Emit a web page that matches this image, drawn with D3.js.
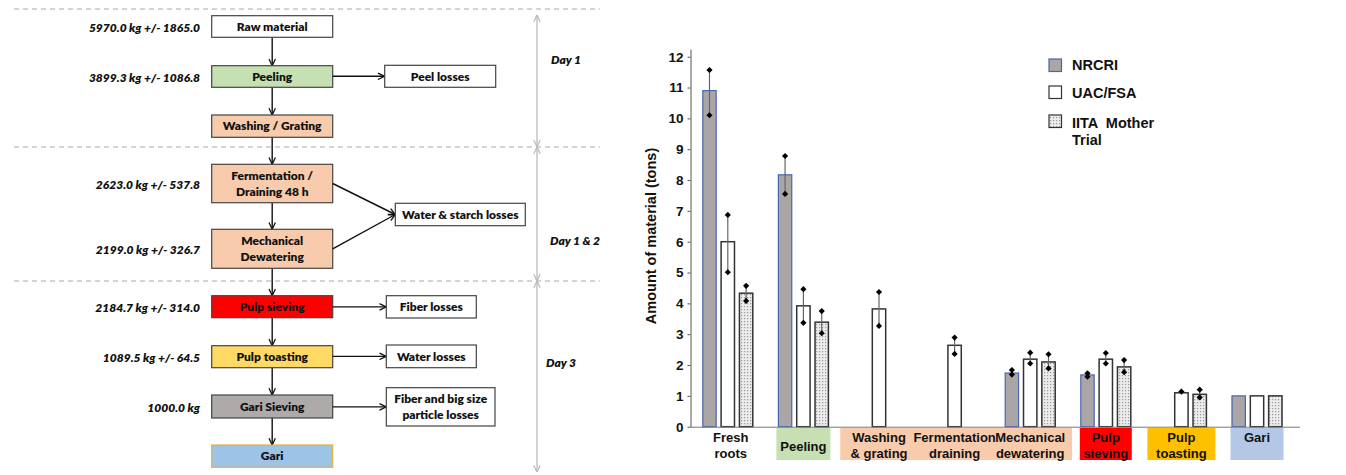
<!DOCTYPE html>
<html>
<head>
<meta charset="utf-8">
<script src="https://cdn.jsdelivr.net/npm/d3@7"></script>
<style>
  body { margin: 0; background: #fff; }
  svg { display: block; }
</style>
</head>
<body>
<div id="chart"></div>
<script>
// ---- bar chart data (tons) ----
const categories = ["Fresh roots", "Peeling", "Washing & grating", "Fermentation draining",
  "Mechanical dewatering", "Pulp sieving", "Pulp toasting", "Gari"];
const categoryLines = [["Fresh", "roots"], ["Peeling"], ["Washing", "& grating"], ["Fermentation", "draining"],
  ["Mechanical", "dewatering"], ["Pulp", "sieving"], ["Pulp", "toasting"], ["Gari"]];
const seriesNames = ["NRCRI", "UAC/FSA", "IITA  Mother Trial"];

const nrcri     = [10.9, 8.17, null, null, 1.74, 1.68, null, 1.0];
const nrcriLow  = [10.1, 7.55, null, null, 1.69, 1.62, null, null];
const nrcriHigh = [11.57, 8.78, null, null, 1.84, 1.73, null, null];
const uac       = [6.0, 3.92, 3.82, 2.64, 2.19, 2.19, 1.10, 1.0];
const uacLow    = [5.01, 3.37, 3.27, 2.36, 2.05, 2.05, 1.14, null];
const uacHigh   = [6.87, 4.46, 4.37, 2.89, 2.40, 2.39, 1.14, null];
const iita      = [4.33, 3.39, null, null, 2.10, 1.94, 1.05, 1.0];
const iitaLow   = [4.08, 3.03, null, null, 1.89, 1.77, 0.95, null];
const iitaHigh  = [4.57, 3.75, null, null, 2.35, 2.16, 1.20, null];
const yTicks = [0, 1, 2, 3, 4, 5, 6, 7, 8, 9, 10, 11, 12];

// ---- flow chart content ----
const steps = ["Raw material", "Peeling", "Washing / Grating", "Fermentation /|Draining 48 h",
  "Mechanical|Dewatering", "Pulp sieving", "Pulp toasting", "Gari Sieving", "Gari"];
const stepMass = ["5970.0 kg +/- 1865.0", "3899.3 kg +/- 1086.8", null, "2623.0 kg +/- 537.8",
  "2199.0 kg +/- 326.7", "2184.7 kg +/- 314.0", "1089.5 kg +/- 64.5", "1000.0 kg", null];
const losses = ["Peel losses", "Water & starch losses", "Fiber losses", "Water losses", "Fiber and big size|particle losses"];
const lossFrom = [[1], [3, 4], [5], [6], [7]];
const days = ["Day 1", "Day 1 & 2", "Day 3"];

// layout / style for the flow chart
const stepTop = [15.7, 65.7, 115, 164.3, 229.3, 295.7, 345.7, 395, 445];
const stepH = [21.6, 21.6, 22.3, 38.4, 39, 22, 22, 23, 22.3];
const stepFill = ["#ffffff", "#c5e0b3", "#f8cbad", "#f8cbad", "#f8cbad", "#ff0000", "#ffd966", "#aeaaaa", "#9dc3e6"];
const lossBox = [[384.7, 65.3, 111, 22], [395.3, 203.3, 130, 22.4], [386.3, 295.7, 90, 22.3],
  [386.3, 345, 90, 22.7], [386.3, 387.7, 108.7, 38.3]];
const dayBands = [[15, 147], [147, 281], [281, 472]];
const dayText = [[551, 60], [550, 241], [546, 363]];
const dividers = [9, 147, 281];

const width = 1346;
const height = 475;
const svg = d3.select('#chart').append('svg').attr('width', width).attr('height', height);

const defs = svg.append('defs');
function chevron(id, color) {
  defs.append('marker').attr('id', id)
    .attr('viewBox', '0 0 10 10').attr('refX', 9.5).attr('refY', 5)
    .attr('markerWidth', 8).attr('markerHeight', 8).attr('markerUnits', 'userSpaceOnUse')
    .attr('orient', 'auto-start-reverse')
    .append('path').attr('d', 'M1,1 L9.5,5 L1,9')
    .attr('fill', 'none').attr('stroke', color).attr('stroke-width', 1.6);
}
chevron('arr', '#111');
chevron('arrGrey', '#bbb');

const dots = defs.append('pattern').attr('id', 'dots')
  .attr('width', 3).attr('height', 3).attr('patternUnits', 'userSpaceOnUse');
dots.append('rect').attr('width', 3).attr('height', 3).attr('fill', '#ececec');
dots.append('rect').attr('width', 1.2).attr('height', 1.2).attr('fill', '#9a9a9a');

// ================= flow chart =================
const flow = svg.append('g').attr('font-family', 'Lato, sans-serif').attr('font-weight', 800);
const boxX = 211.7, boxW = 121, midX = boxX + boxW / 2;

flow.selectAll('line.div').data(dividers).enter().append('line')
  .attr('x1', 14).attr('x2', 600).attr('y1', d => d).attr('y2', d => d)
  .attr('stroke', '#aaa').attr('stroke-dasharray', '5,4');

function multiText(sel, x, cy, str, size) {
  const lines = str.split('|');
  const lh = size * 1.3;
  lines.forEach((ln, i) => {
    sel.append('text').attr('x', x).attr('y', cy + (i - (lines.length - 1) / 2) * lh)
      .attr('dy', '0.35em').attr('text-anchor', 'middle').attr('font-size', size)
      .attr('fill', '#111').text(ln);
  });
}

// vertical arrows between steps
steps.slice(1).forEach((s, i) => {
  flow.append('line').attr('x1', midX).attr('x2', midX)
    .attr('y1', stepTop[i] + stepH[i]).attr('y2', stepTop[i + 1])
    .attr('stroke', '#111').attr('stroke-width', 1.4).attr('marker-end', 'url(#arr)');
});

steps.forEach((s, i) => {
  flow.append('rect').attr('x', boxX).attr('y', stepTop[i]).attr('width', boxW).attr('height', stepH[i])
    .attr('fill', stepFill[i]).attr('stroke', i === 8 ? '#e0b43a' : '#444').attr('stroke-width', 1.2);
  multiText(flow, midX, stepTop[i] + stepH[i] / 2, s, 12);
  if (stepMass[i]) {
    flow.append('text').attr('x', 200).attr('y', stepTop[i] + stepH[i] / 2 + 1).attr('dy', '0.35em')
      .attr('text-anchor', 'end').attr('font-style', 'italic').attr('font-size', 12)
      .attr('fill', '#111').text(stepMass[i]);
  }
});

losses.forEach((l, k) => {
  const [lx, ly, lw, lh] = lossBox[k];
  const cy = ly + lh / 2;
  lossFrom[k].forEach(si => {
    const sy = lossFrom[k].length > 1 ? stepTop[si] + stepH[si] / 2 : cy;
    flow.append('line').attr('x1', boxX + boxW).attr('y1', sy).attr('x2', lx).attr('y2', cy)
      .attr('stroke', '#111').attr('stroke-width', 1.4).attr('marker-end', 'url(#arr)');
  });
  flow.append('rect').attr('x', lx).attr('y', ly).attr('width', lw).attr('height', lh)
    .attr('fill', '#fff').attr('stroke', '#444').attr('stroke-width', 1.2);
  multiText(flow, lx + lw / 2, cy, l, 12);
});

days.forEach((d, i) => {
  flow.append('line').attr('x1', 537).attr('x2', 537)
    .attr('y1', dayBands[i][0]).attr('y2', dayBands[i][1])
    .attr('stroke', '#bbb').attr('stroke-width', 1.3)
    .attr('marker-start', 'url(#arrGrey)').attr('marker-end', 'url(#arrGrey)');
  flow.append('text').attr('x', dayText[i][0]).attr('y', dayText[i][1]).attr('dy', '0.35em')
    .attr('font-style', 'italic').attr('font-size', 12).attr('fill', '#111').text(d);
});

// ================= bar chart =================
const chart = svg.append('g').attr('font-family', '"Liberation Sans", Arial, sans-serif').attr('font-weight', 700);
const x0 = d3.scaleBand().domain(categories).range([690, 1294.8]);
const x1 = d3.scaleBand().domain(seriesNames).range([-25, 25]).paddingInner(0.27);
const y = d3.scaleLinear().domain([0, 12.25]).range([426.7, 49]);

const seriesStyle = [
  { fill: '#aba6a6', stroke: '#4a64b0', sw: 1.2 },
  { fill: '#ffffff', stroke: '#333', sw: 1.5 },
  { fill: 'url(#dots)', stroke: '#333', sw: 1.5 }
];
const seriesVals = [[nrcri, nrcriLow, nrcriHigh], [uac, uacLow, uacHigh], [iita, iitaLow, iitaHigh]];

const bars = [];
categories.forEach((c, ci) => {
  seriesNames.forEach((s, si) => {
    const [v, lo, hi] = seriesVals[si];
    if (v[ci] != null) bars.push({ c, s, si, v: v[ci], lo: lo[ci], hi: hi[ci] });
  });
});

// category label boxes
const labelBoxes = [
  { from: "Peeling", to: "Peeling", fill: '#c6e0b4', w: 54 },
  { from: "Washing & grating", to: "Mechanical dewatering", fill: '#f8cbad' },
  { from: "Pulp sieving", to: "Pulp sieving", fill: '#ff0000', w: 52 },
  { from: "Pulp toasting", to: "Pulp toasting", fill: '#ffc000', w: 68 },
  { from: "Gari", to: "Gari", fill: '#b4c7e7', w: 53 }
];
labelBoxes.forEach(b => {
  let bx, bw;
  if (b.w) {
    bx = x0(b.from) + x0.bandwidth() / 2 - b.w / 2; bw = b.w;
  } else {
    bx = x0(b.from) - 1; bw = x0(b.to) + x0.bandwidth() + 4 - bx;
  }
  chart.append('rect').attr('x', bx).attr('y', 428).attr('width', bw).attr('height', 32).attr('fill', b.fill);
});

categories.forEach((c, ci) => {
  const lines = categoryLines[ci];
  const cx = x0(c) + x0.bandwidth() / 2 + (ci === 0 ? 3 : 0);
  lines.forEach((ln, li) => {
    const yy = (c === "Peeling") ? 451 : 442 + li * 16;
    chart.append('text').attr('x', cx).attr('y', yy).attr('text-anchor', 'middle')
      .attr('font-size', 13).attr('fill', '#111').text(ln);
  });
});

chart.selectAll('rect.bar').data(bars).enter().append('rect')
  .attr('class', 'bar')
  .attr('x', d => x0(d.c) + x0.bandwidth() / 2 + x1(d.s))
  .attr('y', d => y(d.v))
  .attr('width', x1.bandwidth())
  .attr('height', d => y(0) - y(d.v))
  .attr('fill', d => seriesStyle[d.si].fill)
  .attr('stroke', d => seriesStyle[d.si].stroke)
  .attr('stroke-width', d => seriesStyle[d.si].sw);

const errs = bars.filter(d => d.lo != null);
chart.selectAll('line.err').data(errs).enter().append('line')
  .attr('x1', d => x0(d.c) + x0.bandwidth() / 2 + x1(d.s) + x1.bandwidth() / 2)
  .attr('x2', d => x0(d.c) + x0.bandwidth() / 2 + x1(d.s) + x1.bandwidth() / 2)
  .attr('y1', d => y(d.lo)).attr('y2', d => y(d.hi))
  .attr('stroke', '#666').attr('stroke-width', 1.2);

const pts = [];
errs.forEach(d => { pts.push({ d, v: d.lo }); if (d.hi !== d.lo) pts.push({ d, v: d.hi }); });
chart.selectAll('path.pt').data(pts).enter().append('path')
  .attr('d', d3.symbol(d3.symbolSquare).size(19))
  .attr('transform', p => `translate(${x0(p.d.c) + x0.bandwidth() / 2 + x1(p.d.s) + x1.bandwidth() / 2},${y(p.v)}) rotate(45)`)
  .attr('fill', '#000');

// axes
const yAxis = chart.append('g').attr('transform', 'translate(690.5,0)')
  .call(d3.axisLeft(y).tickValues(yTicks).tickSize(3).tickSizeOuter(0).tickPadding(4));
yAxis.selectAll('text').attr('font-size', 13.5).attr('font-family', '"Liberation Sans", Arial, sans-serif')
  .attr('font-weight', 700).attr('fill', '#111');
yAxis.select('.domain').attr('stroke', '#555');
yAxis.selectAll('.tick line').attr('stroke', '#555');

const xAxis = chart.append('g').attr('transform', 'translate(0,426.7)')
  .call(d3.axisBottom(x0).tickSize(0).tickSizeOuter(0).tickFormat(''));
xAxis.select('.domain').attr('stroke', '#777').attr('d', 'M690.5,0.5H1300');

chart.append('text').attr('transform', 'translate(656,236) rotate(-90)')
  .attr('text-anchor', 'middle').attr('font-size', 14.5).attr('fill', '#111')
  .text('Amount of material (tons)');

// legend
const legY = [59, 86, 115];
const legend = chart.append('g');
seriesNames.forEach((s, i) => {
  legend.append('rect').attr('x', 1049).attr('y', legY[i]).attr('width', 12.5).attr('height', 12.5)
    .attr('fill', seriesStyle[i].fill).attr('stroke', seriesStyle[i].stroke).attr('stroke-width', 1.2);
});
legend.append('text').attr('x', 1072).attr('y', 70).attr('font-size', 14.5).attr('fill', '#111').text(seriesNames[0]);
legend.append('text').attr('x', 1072).attr('y', 97.5).attr('font-size', 14.5).attr('fill', '#111').text(seriesNames[1]);
legend.append('text').attr('x', 1072).attr('y', 127.5).attr('font-size', 14.5).attr('fill', '#111')
  .style('white-space', 'pre').text('IITA  Mother');
legend.append('text').attr('x', 1072).attr('y', 144.5).attr('font-size', 14.5).attr('fill', '#111').text('Trial');
</script>
</body>
</html>
